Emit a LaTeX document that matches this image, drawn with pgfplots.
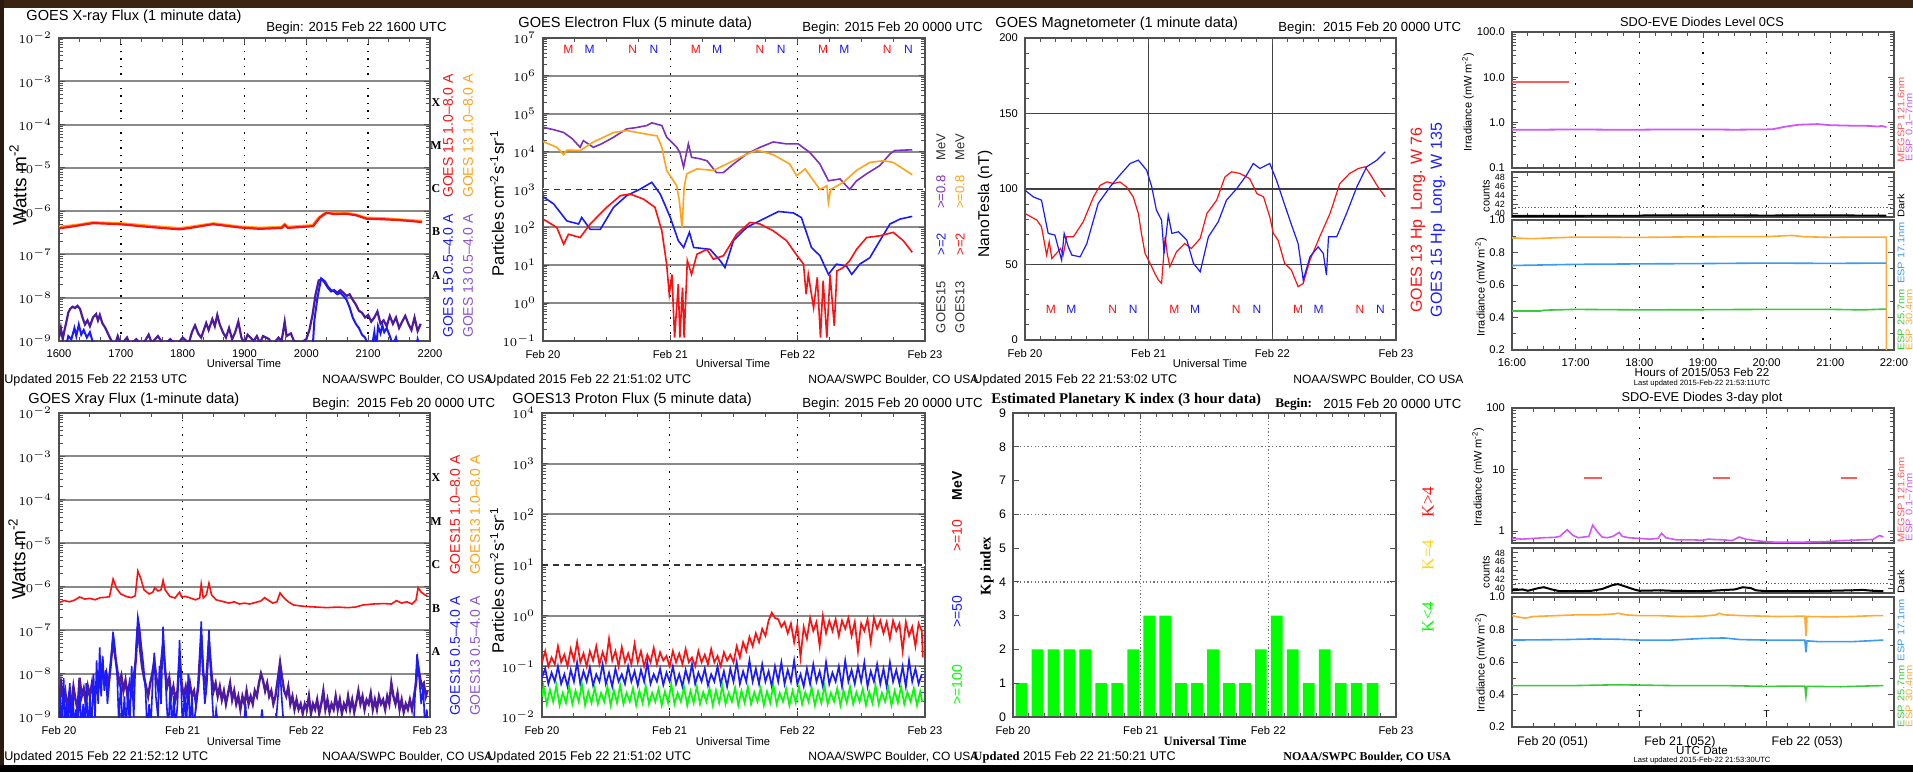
\documentclass[border=0pt]{standalone}
\usepackage{fontspec}
\setmainfont{Liberation Sans}
\newfontfamily\serif{Liberation Serif}
\usepackage{pgfplots}
\pgfplotsset{compat=1.18}

\definecolor{gred}{HTML}{FF1010}
\definecolor{gorange}{HTML}{FFA31A}
\definecolor{gblue}{HTML}{1A1AFF}
\definecolor{gpurple}{HTML}{4E1A9E}
\definecolor{lpurple}{HTML}{8A55D0}
\definecolor{epurple}{HTML}{7A30C0}
\definecolor{kgreen}{HTML}{00FF00}
\definecolor{kyellow}{HTML}{FFD21A}
\definecolor{sred}{HTML}{FF5A5A}
\definecolor{smag}{HTML}{D455F5}
\definecolor{sorange}{HTML}{FFAA33}
\definecolor{sblue}{HTML}{3C9BF0}
\definecolor{sgreen}{HTML}{3CC83C}
\definecolor{axc}{HTML}{505050}
\definecolor{gridc}{HTML}{8A8A8A}
\definecolor{topband}{HTML}{3B2410}
\definecolor{leftband}{HTML}{2B1B0E}

\newcommand{\fs}[1]{\fontsize{#1}{#1}\selectfont}

\tikzset{rl/.style={rotate=90, font=\fs{4.8}, xscale=1.15}}

\pgfplotsset{
 base/.style={scale only axis, anchor=south west,
   axis line style={draw=axc, line width=0.9pt},
   tick style={draw=axc, line width=0.5pt},
   major tick length=2.8pt, minor tick length=2.2pt,
   tick label style={font=\fs{5.6}},
   xticklabel style={yshift=-1pt}},
 dgrid/.style={xmajorgrids, major x grid style={draw=black, line width=0.7pt, dash pattern=on 0.7pt off 3pt}},
 sgrid/.style={xmajorgrids, major x grid style={draw=black, line width=0.7pt, dash pattern=on 0.7pt off 4.5pt}},
 hgrid/.style={ymajorgrids, major y grid style={draw=gridc, line width=1pt}},
 day3/.style={xmin=0, xmax=72, xtick={0,24,48,72}, minor x tick num=3},
 xraylog/.style={ymin=1e-9, ymax=1e-2, ytick={1e-9,1e-8,1e-7,1e-6,1e-5,1e-4,1e-3,1e-2},
   minor ytick={2e-9,3e-9,4e-9,5e-9,6e-9,7e-9,8e-9,9e-9,2e-8,3e-8,4e-8,5e-8,6e-8,7e-8,8e-8,9e-8,2e-7,3e-7,4e-7,5e-7,6e-7,7e-7,8e-7,9e-7,2e-6,3e-6,4e-6,5e-6,6e-6,7e-6,8e-6,9e-6,2e-5,3e-5,4e-5,5e-5,6e-5,7e-5,8e-5,9e-5,2e-4,3e-4,4e-4,5e-4,6e-4,7e-4,8e-4,9e-4,2e-3,3e-3,4e-3,5e-3,6e-3,7e-3,8e-3,9e-3}},
}

\begin{document}
\begin{tikzpicture}
\useasboundingbox (0,0) rectangle (956.5pt,-386pt);
\fill[white] (0,0) rectangle (956.5pt,-386pt);
\fill[topband] (0,0) rectangle (956.5pt,-4pt);
\fill[leftband] (0,0) rectangle (2pt,-386pt);
\fill[black] (0,-382.5pt) rectangle (956.5pt,-386pt);

%================ Panel 1: GOES X-ray 1 minute
\begin{axis}[base, ymode=log, at={(29.5pt,-170.5pt)}, width=185.5pt, height=151.5pt,
  xmin=16, xmax=22, xtick={16,17,18,19,20,21,22},
  xticklabels={1600,1700,1800,1900,2000,2100,2200}, minor x tick num=2,
  xraylog, dgrid, hgrid]
\addplot[gorange, line width=1.3pt] coordinates {(16,4.3e-7)(16.3,4.8e-7)(16.55,5.5e-7)(17.0,5.2e-7)(17.5,4.5e-7)(17.95,4.0e-7)(18.12,4.3e-7)(18.5,5.2e-7)(18.9,4.4e-7)(19.25,4.1e-7)(19.6,4.3e-7)(19.65,5.0e-7)(19.7,4.3e-7)(20.1,4.7e-7)(20.2,7.0e-7)(20.32,9.5e-7)(20.45,8.9e-7)(20.65,9.0e-7)(20.8,8.3e-7)(20.97,7.0e-7)(21.25,6.8e-7)(21.5,6.4e-7)(21.87,5.9e-7)};
\addplot[gred, line width=1.1pt] coordinates {(16,4.0e-7)(16.2,4.4e-7)(16.55,5.3e-7)(16.98,5.0e-7)(17.47,4.3e-7)(17.95,3.8e-7)(18.12,4.1e-7)(18.49,5.0e-7)(18.92,4.2e-7)(19.25,3.9e-7)(19.6,4.1e-7)(19.65,4.8e-7)(19.7,4.1e-7)(20.11,4.5e-7)(20.22,7.2e-7)(20.33,9.2e-7)(20.44,8.6e-7)(20.65,8.7e-7)(20.81,8.0e-7)(20.97,6.7e-7)(21.24,6.5e-7)(21.52,6.2e-7)(21.87,5.6e-7)};
\addplot[gpurple, line width=1.1pt] coordinates {(16.00,1.2e-9)(16.03,2.0e-9)(16.06,1.1e-9)(16.09,1.8e-9)(16.12,2.8e-9)(16.15,4.5e-9)(16.18,5.5e-9)(16.22,6.2e-9)(16.26,5.8e-9)(16.30,6.5e-9)(16.34,5.5e-9)(16.38,3.5e-9)(16.42,2.4e-9)(16.46,3.0e-9)(16.50,2.2e-9)(16.55,3.5e-9)(16.60,4.2e-9)(16.63,3.0e-9)(16.66,4.0e-9)(16.70,2.6e-9)(16.75,2.0e-9)(16.80,1.4e-9)(16.85,1.0e-9)(16.90,0.8e-9)(16.95,1.3e-9)(17.0,0.8e-9)(17.1,1.2e-9)(17.15,0.8e-9)(17.25,1.1e-9)(17.35,0.8e-9)(17.45,1.4e-9)(17.5,0.9e-9)(17.6,1.3e-9)(17.7,0.8e-9)(17.8,1.1e-9)(17.9,0.8e-9)(18.0,1.2e-9)(18.1,0.9e-9)(18.15,1.6e-9)(18.2,2.3e-9)(18.25,1.5e-9)(18.3,1.2e-9)(18.38,2.6e-9)(18.42,1.8e-9)(18.48,3.2e-9)(18.52,2.2e-9)(18.56,4.0e-9)(18.6,2.4e-9)(18.65,1.6e-9)(18.7,1.2e-9)(18.75,2.0e-9)(18.8,1.1e-9)(18.85,1.6e-9)(18.9,2.8e-9)(18.95,1.2e-9)(19.0,0.9e-9)(19.05,1.4e-9)(19.15,1.0e-9)(19.2,1.3e-9)(19.25,0.9e-9)(19.3,1.3e-9)(19.4,1.1e-9)(19.45,0.8e-9)(19.55,1.2e-9)(19.6,1.0e-9)(19.65,2.8e-9)(19.68,1.3e-9)(19.75,1.5e-9)(19.8,1.0e-9)(19.9,0.9e-9)(20.0,1.1e-9)(20.05,1.8e-9)(20.1,4.0e-9)(20.15,12e-9)(20.2,25e-9)(20.25,27e-9)(20.3,22e-9)(20.35,17e-9)(20.4,14e-9)(20.45,15e-9)(20.5,13e-9)(20.55,15e-9)(20.6,13e-9)(20.65,11e-9)(20.7,12e-9)(20.75,9e-9)(20.8,7e-9)(20.85,5e-9)(20.9,4.5e-9)(20.95,3.5e-9)(21.0,4.0e-9)(21.05,2.8e-9)(21.1,3.5e-9)(21.15,4.8e-9)(21.2,2.5e-9)(21.25,3.0e-9)(21.3,2.2e-9)(21.35,3.8e-9)(21.4,2.5e-9)(21.45,3.5e-9)(21.5,2.0e-9)(21.55,2.8e-9)(21.6,3.8e-9)(21.65,2.5e-9)(21.7,1.8e-9)(21.75,3.5e-9)(21.8,1.7e-9)(21.85,2.5e-9)};
\addplot[gblue, line width=1.0pt] coordinates {(16.00,0.5e-9)(16.1,0.6e-9)(16.15,1.3e-9)(16.2,1.1e-9)(16.25,2.0e-9)(16.28,1.3e-9)(16.32,2.4e-9)(16.36,1.4e-9)(16.4,1.8e-9)(16.45,1.2e-9)(16.5,1.6e-9)(16.55,0.9e-9)(16.6,0.5e-9)(16.7,0.5e-9)(17.0,0.6e-9)(17.5,0.6e-9)(18.5,0.6e-9)(18.8,0.6e-9)(19.5,0.5e-9)(20.0,0.5e-9)(20.1,0.6e-9)(20.13,3e-9)(20.18,10e-9)(20.24,28e-9)(20.3,24e-9)(20.35,18e-9)(20.4,15e-9)(20.45,14e-9)(20.5,12e-9)(20.55,13e-9)(20.6,11e-9)(20.65,9e-9)(20.7,6e-9)(20.75,3.5e-9)(20.8,2.5e-9)(20.85,2.0e-9)(20.9,1.4e-9)(20.95,1.2e-9)(21.0,0.8e-9)(21.05,0.6e-9)(21.1,1.6e-9)(21.13,0.7e-9)(21.16,2.2e-9)(21.2,1.5e-9)(21.23,2.3e-9)(21.26,1.6e-9)(21.3,2.0e-9)(21.35,1.3e-9)(21.4,0.8e-9)(21.45,1.2e-9)(21.5,0.6e-9)(21.6,0.5e-9)(21.75,0.5e-9)(21.8,1.1e-9)(21.85,0.6e-9)};
\end{axis}

%================ Panel 2: GOES electron flux
\begin{axis}[base, ymode=log, at={(271.5pt,-170.5pt)}, width=191pt, height=151.5pt,
  day3, xticklabels={Feb 20,Feb 21,Feb 22,Feb 23},
  ymin=0.1, ymax=1e7, ytick={0.1,1,10,100,1000,1e4,1e5,1e6,1e7},
  minor ytick={0.2,0.3,0.4,0.5,0.6,0.7,0.8,0.9,2,3,4,5,6,7,8,9,20,30,40,50,60,70,80,90,200,300,400,500,600,700,800,900,2e3,3e3,4e3,5e3,6e3,7e3,8e3,9e3,2e4,3e4,4e4,5e4,6e4,7e4,8e4,9e4,2e5,3e5,4e5,5e5,6e5,7e5,8e5,9e5,2e6,3e6,4e6,5e6,6e6,7e6,8e6,9e6},
  dgrid, hgrid]
\addplot[white, line width=1.4pt] coordinates {(0,1000)(72,1000)};
\addplot[black!80, line width=0.8pt, dash pattern=on 3pt off 2.5pt] coordinates {(0,1000)(72,1000)};
\addplot[epurple, line width=0.8pt] coordinates {(0,4.4e4)(2,3.8e4)(3.9,3.2e4)(5.5,2.2e4)(7,1.3e4)(7.6,1.95e4)(9.5,1.3e4)(11,1.6e4)(13.3,2.4e4)(15.8,4.0e4)(17.5,4.3e4)(19.6,4.9e4)(20.5,5.75e4)(22.4,4.9e4)(23.3,2.4e4)(25.2,1.3e4)(25.8,9.5e3)(26.5,3.9e3)(27.4,1.6e4)(28,7.1e3)(29.5,6.5e3)(30.9,5.75e3)(32.7,2.8e3)(34,2.8e3)(35.9,4.7e3)(38.4,8.7e3)(40.9,1.3e4)(43.4,1.8e4)(45.9,1.6e4)(48.1,1.6e4)(50.3,9.5e3)(52.2,4.7e3)(53.8,1.7e3)(56,1.9e3)(57.8,1.0e3)(59.1,1.7e3)(61,2.6e3)(63.5,4.3e3)(65.4,8.7e3)(66.3,1.07e4)(69.6,1.12e4)};
\addplot[gorange, line width=0.8pt] coordinates {(0,1.86e4)(2.6,1.3e4)(3.9,8.3e3)(4.5,1.1e4)(7,1.07e4)(9.5,1.8e4)(13.3,3.2e4)(15.8,3.6e4)(18.3,3.1e4)(21.5,2.6e4)(22.4,1.3e4)(23.3,3.2e3)(25.2,1.26e3)(25.7,500)(26.2,100)(26.6,1.15e3)(27.1,2.6e3)(29,3.5e3)(32.1,3.2e3)(34.6,4.7e3)(37.8,7.8e3)(40.3,1.1e4)(43.4,8.3e3)(46.5,4.7e3)(47.8,2.3e3)(49.4,3.5e3)(51,1.7e3)(52.2,1.0e3)(53.5,1.26e3)(53.8,457)(54.2,1.0e3)(56.6,1.55e3)(59.1,3.2e3)(61.6,5.2e3)(64.1,5.75e3)(66,5.2e3)(67.9,3.5e3)(69.6,2.45e3)};
\addplot[gblue, line width=0.8pt] coordinates {(0,646)(2,417)(4.5,148)(6.7,123)(7.3,182)(8.9,89)(10.8,89)(13.3,339)(15.8,692)(18.3,1023)(20.5,1549)(22.1,759)(24,182)(25.5,44.7)(26.5,29.5)(27.6,74)(28.4,29.5)(31.5,26.3)(33.4,13.2)(34.3,8.7)(35.9,44.7)(38.4,100)(41.5,166)(44.4,263)(47.2,240)(48.7,182)(50.6,29.5)(52.2,17.8)(53.8,5.75)(55.3,10.7)(57.2,9.5)(58.2,5.75)(59.7,10.7)(61.6,15.8)(63.5,44.7)(65.4,123)(67.3,166)(69.6,195)};
\addplot[gred, line width=0.8pt] coordinates {(0,166)(2.6,100)(3.9,36)(4.8,66)(7,54)(8.9,123)(12,339)(14.6,692)(16.4,759)(18.9,562)(21.1,339)(22.4,81)(23.3,10.7)(23.8,1.7)(24.3,5.75)(24.8,0.123)(25.5,3.16)(25.8,0.123)(26.3,2.57)(26.6,0.123)(27.2,13.2)(28,5.75)(29,19.5)(30.9,26.3)(32.1,14.5)(34,17.8)(36.5,66)(39,135)(40.9,123)(43.4,81)(45.9,44.7)(47.7,19.5)(48.4,14.5)(49.1,10.7)(49.6,1.7)(50,5.75)(51,0.76)(51.7,4.8)(52.3,0.123)(52.8,3.9)(53.5,0.123)(54.1,5.75)(54.9,0.25)(55.4,7.1)(56.6,8.7)(57.8,13.2)(59.1,26.3)(61,54)(63.5,60)(66,74)(67.9,44.7)(69.6,21.9)};
\pgfplotsinvokeforeach{0,24,48}{
  \node[text=gred, font=\fs{6}] at (axis cs:{4.8+#1},5e6) {M};
  \node[text=gblue, font=\fs{6}] at (axis cs:{8.8+#1},5e6) {M};
  \node[text=gred, font=\fs{6}] at (axis cs:{16.9+#1},5e6) {N};
  \node[text=gblue, font=\fs{6}] at (axis cs:{20.9+#1},5e6) {N};
}
\end{axis}

%================ Panel 3: magnetometer
\begin{axis}[base, at={(512.5pt,-170pt)}, width=185.5pt, height=151pt,
  day3, minor x tick num=7, xticklabels={Feb 20,Feb 21,Feb 22,Feb 23},
  ymin=0, ymax=200, ytick={0,50,100,150,200}, yticklabels={0,50,100,150,200}, minor y tick num=4,
  xmajorgrids, ymajorgrids, major grid style={draw=black!75, line width=0.8pt}]
\addplot[gred, line width=0.6pt] coordinates {(0,83.8)(2.3,79.4)(3.2,75)(4.2,56.2)(4.7,65)(5.2,54)(6.1,57.3)(6.9,60.6)(7.4,56.2)(8.1,68.4)(9.4,68.4)(11.3,78.3)(13.3,94.8)(14.6,102.5)(15.9,104.7)(17.2,103.6)(18.4,104.7)(19.7,101.4)(21,94.8)(22,83.8)(22.6,70.6)(23.3,57.3)(24.6,48.5)(25.2,44.1)(25.9,39.7)(26.5,37.5)(27.2,68.4)(27.6,57.3)(28.1,48.5)(29.4,58.4)(31,63.9)(32.3,60.6)(34,67.3)(35.3,83.8)(37.2,92.6)(38.8,108)(40.1,111.4)(41.7,110.3)(43.6,106.9)(45,97)(46.3,94.8)(47.5,81.6)(48.2,70.6)(49.1,66.2)(50.4,50.7)(51.7,46.3)(53,35.3)(54,37.5)(55.3,52.9)(57.2,68.4)(59.2,83.8)(61.1,103.6)(63,110.3)(64.7,113.6)(66,114.7)(66.9,110.3)(68.5,101.4)(69.9,94.8)};
\addplot[gblue, line width=0.6pt] coordinates {(0,99.2)(1.6,94.8)(3.2,92.6)(4.5,70.6)(5.8,69.5)(7.1,52.9)(7.6,70.6)(8.4,61.7)(9.1,56.2)(10.7,55.1)(12,63.9)(14.2,90.4)(16.5,101.4)(18.4,109.2)(20.4,116.9)(22,119.1)(23.6,112.5)(24.6,101.4)(25.5,86)(26.5,79.4)(27,57.3)(27.8,82.7)(28.5,70.6)(29.8,71.7)(31.4,66.2)(32.7,50.7)(34,45.2)(35.6,68.4)(37.5,78.3)(39.1,92.6)(41.1,100.3)(43,109.2)(44.3,116.9)(45.6,113.6)(47.5,116.9)(48.8,105.8)(50.1,92.6)(51.4,79.4)(53,63.9)(54,39.7)(55.3,55.1)(56.9,61.7)(57.9,57.3)(58.5,43)(58.9,68.4)(60.5,68.4)(62.4,83.8)(64.4,101.4)(66.3,114.7)(68.3,119.1)(69.9,124.6)};
\pgfplotsinvokeforeach{0,24,48}{
  \node[text=gred, font=\fs{6}] at (axis cs:{5+#1},20) {M};
  \node[text=gblue, font=\fs{6}] at (axis cs:{9+#1},20) {M};
  \node[text=gred, font=\fs{6}] at (axis cs:{17+#1},20) {N};
  \node[text=gblue, font=\fs{6}] at (axis cs:{21+#1},20) {N};
}
\end{axis}

%================ Panel 4: SDO-EVE Level 0CS
\begin{axis}[base, ymode=log, at={(756pt,-84pt)}, width=191pt, height=68pt,
  xmin=16, xmax=22, xtick={16,...,22}, xticklabels={}, minor x tick num=3, sgrid,
  ymin=0.1, ymax=100, ytick={0.1,1,10,100}, yticklabels={0.1,1.0,10.0,100.0},
  minor ytick={0.2,0.3,0.4,0.5,0.6,0.7,0.8,0.9,2,3,4,5,6,7,8,9,20,30,40,50,60,70,80,90}]
\addplot[sred, line width=0.9pt] coordinates {(16,8)(16.89,8)};
\addplot[smag, line width=0.9pt] coordinates {(16,0.70)(16.5,0.70)(17,0.71)(17.5,0.70)(18,0.70)(18.5,0.71)(19,0.71)(19.5,0.70)(20,0.71)(20.1,0.72)(20.3,0.82)(20.5,0.9)(20.8,0.93)(21,0.88)(21.3,0.86)(21.6,0.85)(21.75,0.82)(21.8,0.85)(21.88,0.8)};
\end{axis}
\begin{axis}[base, at={(756pt,-108.5pt)}, width=191pt, height=22.5pt,
  xmin=16, xmax=22, xtick={16,...,22}, xticklabels={}, minor x tick num=3, sgrid,
  ymin=39.2, ymax=49.2, ytick={40,42,44,46,48}, yticklabels={40,42,44,46,48}, minor y tick num=1,
  yticklabel style={font=\fs{4.5}}]
\addplot[black!60, line width=0.6pt, dash pattern=on 0.6pt off 1pt] coordinates {(16,41.3)(22,41.3)};
\addplot[black, line width=0.9pt] coordinates {(16,39.45)(17,39.45)(18,39.5)(18.1,39.6)(19,39.6)(20,39.55)(21,39.6)(21.88,39.5)};
\end{axis}
\begin{axis}[base, at={(756pt,-175pt)}, width=191pt, height=65pt,
  xmin=16, xmax=22, xtick={16,...,22}, xticklabels={16:00,17:00,18:00,19:00,20:00,21:00,22:00}, minor x tick num=3, sgrid,
  ymin=0.2, ymax=1.0, ytick={0.2,0.4,0.6,0.8,1.0}, yticklabels={0.2,0.4,0.6,0.8,1.0}, minor y tick num=1]
\addplot[sorange, line width=0.8pt] coordinates {(16,0.89)(16.3,0.885)(17,0.895)(18,0.893)(19,0.897)(20,0.898)(20.4,0.905)(20.6,0.897)(21,0.893)(21.5,0.895)(21.88,0.895)(21.88,0.2)};
\addplot[sblue, line width=0.8pt] coordinates {(16,0.72)(17,0.727)(18,0.73)(19,0.732)(20,0.735)(21,0.733)(21.88,0.735)};
\addplot[sgreen, line width=0.8pt] coordinates {(16,0.44)(16.45,0.44)(16.5,0.445)(17,0.45)(18,0.447)(19,0.448)(20,0.45)(21,0.45)(21.5,0.447)(21.88,0.452)};
\end{axis}

%================ Panel 5: GOES X-ray 3 day
\begin{axis}[base, ymode=log, at={(29.5pt,-358.5pt)}, width=185.5pt, height=152pt,
  day3, xticklabels={Feb 20,Feb 21,Feb 22,Feb 23},
  xraylog, dgrid, hgrid]
\addplot[gred, line width=0.8pt] coordinates {(0,4.3e-7)(1,4.8e-7)(2,4.5e-7)(3,4.9e-7)(4,5.8e-7)(5,5.2e-7)(6,5.4e-7)(7,5.0e-7)(8,5.6e-7)(9,5.7e-7)(9.8,5.9e-7)(10.5,1.5e-6)(11.2,9e-7)(12,6.8e-7)(13,6.0e-7)(14,5.6e-7)(14.8,6.2e-7)(15.3,2.3e-6)(15.9,1.5e-6)(16.5,8.5e-7)(17.5,6.8e-7)(18.2,7.5e-7)(18.6,9.5e-7)(19.2,8.0e-7)(19.8,8.5e-7)(20.2,1.4e-6)(20.6,8.5e-7)(21.5,6.0e-7)(22.5,5.5e-7)(23.4,7.5e-7)(23.8,5.8e-7)(24.5,6.0e-7)(25.5,5.5e-7)(26.5,5.0e-7)(27.3,5.5e-7)(27.6,1.15e-6)(28,5.5e-7)(28.6,6.5e-7)(29.1,1.2e-6)(29.6,6.5e-7)(30.5,5.0e-7)(32,4.5e-7)(33,4.2e-7)(34,4.5e-7)(35,4.0e-7)(36,4.2e-7)(37,4.0e-7)(38,4.3e-7)(39.2,4.7e-7)(39.9,5.6e-7)(40.5,5.0e-7)(41.5,4.2e-7)(42.3,4.5e-7)(42.9,7.2e-7)(43.5,5.8e-7)(44.5,4.5e-7)(45.5,3.8e-7)(47,3.6e-7)(48,3.5e-7)(50,3.4e-7)(52,3.3e-7)(54,3.4e-7)(56,3.3e-7)(57.5,3.4e-7)(59,3.8e-7)(61,4.0e-7)(63,4.1e-7)(64.5,4.0e-7)(65.5,4.8e-7)(66.5,4.2e-7)(67.5,4.5e-7)(68.5,4.0e-7)(69.3,5.0e-7)(69.7,9.5e-7)(70.3,7.5e-7)(71,6.5e-7)(71.5,6.2e-7)};
\addplot[gpurple, line width=1.2pt] coordinates {(0,2e-9)(0.4,6e-9)(0.8,2.5e-9)(1.2,4e-9)(1.6,1.5e-9)(2.0,3.5e-9)(2.4,2e-9)(2.8,5e-9)(3.2,2.5e-9)(3.6,1.5e-9)(4.0,8e-9)(4.4,3e-9)(4.8,4.5e-9)(5.2,2e-9)(5.6,5e-9)(6.0,3e-9)(6.4,6e-9)(6.8,2.5e-9)(7.2,4e-9)(7.6,9e-9)(8.0,5e-9)(8.4,15e-9)(8.8,6e-9)(9.2,10e-9)(9.6,5e-9)(10.0,15e-9)(10.5,60e-9)(10.9,25e-9)(11.3,12e-9)(11.7,6e-9)(12.1,9e-9)(12.5,4e-9)(12.9,7e-9)(13.3,3e-9)(13.7,6e-9)(14.1,3.5e-9)(14.5,8e-9)(14.9,20e-9)(15.3,120e-9)(15.7,40e-9)(16.1,15e-9)(16.5,8e-9)(16.9,5e-9)(17.3,3e-9)(17.7,6e-9)(18.1,10e-9)(18.5,20e-9)(18.9,8e-9)(19.3,4e-9)(19.7,12e-9)(20.2,50e-9)(20.6,12e-9)(21.0,5e-9)(21.4,8e-9)(21.8,3e-9)(22.2,5e-9)(22.6,2.5e-9)(23.0,4e-9)(23.4,25e-9)(23.8,6e-9)(24.2,3e-9)(24.6,5e-9)(25.0,2.5e-9)(25.4,6e-9)(25.8,3e-9)(26.2,4e-9)(26.6,2e-9)(27.0,5e-9)(27.6,80e-9)(28.0,10e-9)(28.5,5e-9)(29.1,55e-9)(29.6,10e-9)(30.0,4e-9)(30.4,6e-9)(30.8,3e-9)(31.2,5e-9)(31.6,2.5e-9)(32.0,4e-9)(32.4,2e-9)(32.8,3.5e-9)(33.2,6e-9)(33.6,2.5e-9)(34.0,4e-9)(34.4,2e-9)(34.8,3e-9)(35.2,1.5e-9)(35.6,3e-9)(36.0,2e-9)(36.4,4e-9)(36.8,2e-9)(37.2,3e-9)(37.6,2e-9)(38.0,4e-9)(38.4,3e-9)(38.8,6e-9)(39.2,10e-9)(39.6,7e-9)(40.0,4e-9)(40.4,6e-9)(40.8,3e-9)(41.2,4e-9)(41.6,2e-9)(42.0,3e-9)(42.5,8e-9)(42.9,18e-9)(43.3,8e-9)(43.7,4e-9)(44.1,3e-9)(44.5,5e-9)(44.9,2e-9)(45.3,3e-9)(45.7,1.5e-9)(46.1,2.5e-9)(46.5,1.5e-9)(46.9,2e-9)(47.3,1.2e-9)(47.7,2e-9)(48.1,1.5e-9)(48.5,3e-9)(48.9,1.2e-9)(49.3,2e-9)(49.7,1.5e-9)(50.1,2.5e-9)(50.5,1.2e-9)(50.9,2e-9)(51.3,4e-9)(51.7,1.5e-9)(52.1,2.5e-9)(52.5,1.3e-9)(52.9,2e-9)(53.3,1.5e-9)(53.7,3e-9)(54.1,1.5e-9)(54.5,2.5e-9)(54.9,1.2e-9)(55.3,2e-9)(55.7,1.5e-9)(56.1,3e-9)(56.5,1.5e-9)(56.9,2.5e-9)(57.3,1.3e-9)(57.7,2.2e-9)(58.1,4e-9)(58.5,2e-9)(58.9,3e-9)(59.3,1.5e-9)(59.7,2.5e-9)(60.1,2e-9)(60.5,3.5e-9)(60.9,1.5e-9)(61.3,2.5e-9)(61.7,1.5e-9)(62.1,3e-9)(62.5,2e-9)(62.9,2.5e-9)(63.3,1.5e-9)(63.7,3e-9)(64.1,2e-9)(64.5,6e-9)(64.9,3e-9)(65.3,2e-9)(65.7,3.5e-9)(66.1,1.5e-9)(66.5,2.5e-9)(66.9,1.3e-9)(67.3,2e-9)(67.7,1.5e-9)(68.1,2.5e-9)(68.5,1.5e-9)(68.9,3e-9)(69.3,6e-9)(69.6,18e-9)(70.0,9e-9)(70.4,5e-9)(70.8,6e-9)(71.2,3e-9)(71.5,4e-9)};
\addplot[gblue, line width=0.8pt] coordinates {(0,0.5e-9)(0.3,3e-9)(0.6,0.5e-9)(0.9,8e-9)(1.2,0.5e-9)(1.5,2e-9)(1.8,0.5e-9)(2.1,6e-9)(2.4,0.5e-9)(2.7,3e-9)(3.0,0.5e-9)(3.3,1.5e-9)(3.6,0.5e-9)(4.0,5e-9)(4.3,0.5e-9)(4.7,2e-9)(5.0,0.5e-9)(5.3,6e-9)(5.6,0.5e-9)(6.0,3e-9)(6.3,0.5e-9)(6.7,10e-9)(7.0,1e-9)(7.3,20e-9)(7.6,2e-9)(7.9,40e-9)(8.2,3e-9)(8.5,25e-9)(8.8,4e-9)(9.1,12e-9)(9.4,2e-9)(9.8,8e-9)(10.2,30e-9)(10.5,90e-9)(10.9,35e-9)(11.3,8e-9)(11.6,0.8e-9)(12.0,6e-9)(12.3,0.5e-9)(12.7,3e-9)(13.0,0.5e-9)(13.4,5e-9)(13.7,0.5e-9)(14.1,15e-9)(14.5,1e-9)(14.9,30e-9)(15.3,200e-9)(15.6,120e-9)(16.0,40e-9)(16.4,15e-9)(16.8,4e-9)(17.1,0.5e-9)(17.5,2e-9)(17.8,0.5e-9)(18.2,8e-9)(18.5,30e-9)(18.8,3e-9)(19.2,1e-9)(19.5,15e-9)(19.8,2e-9)(20.2,120e-9)(20.5,20e-9)(20.9,2e-9)(21.2,0.5e-9)(21.6,5e-9)(21.9,0.5e-9)(22.3,3e-9)(22.6,0.5e-9)(23.0,2e-9)(23.4,60e-9)(23.7,5e-9)(24.0,0.5e-9)(24.4,4e-9)(24.7,0.5e-9)(25.1,10e-9)(25.4,0.5e-9)(25.8,3e-9)(26.1,0.5e-9)(26.5,1.5e-9)(26.9,4e-9)(27.3,10e-9)(27.6,160e-9)(27.9,15e-9)(28.3,2e-9)(28.7,6e-9)(29.1,100e-9)(29.4,15e-9)(29.8,2e-9)(30.1,0.5e-9)(30.5,1.5e-9)(31,0.5e-9)(35.8,0.5e-9)(36.2,2e-9)(36.5,0.5e-9)(39,0.5e-9)(39.4,1.5e-9)(39.8,0.5e-9)(42,0.5e-9)(42.5,3e-9)(42.9,12e-9)(43.3,2e-9)(43.7,0.5e-9)(68.8,0.5e-9)(69.2,6e-9)(69.5,28e-9)(69.9,8e-9)(70.3,2e-9)(70.7,5e-9)(71.0,0.6e-9)(71.4,1.5e-9)(71.5,0.5e-9)};
\end{axis}

%================ Panel 6: proton flux
\begin{axis}[base, ymode=log, at={(271pt,-358.5pt)}, width=191.5pt, height=152pt,
  day3, xticklabels={Feb 20,Feb 21,Feb 22,Feb 23},
  ymin=0.01, ymax=1e4, ytick={0.01,0.1,1,10,100,1000,1e4},
  minor ytick={0.02,0.03,0.04,0.05,0.06,0.07,0.08,0.09,0.2,0.3,0.4,0.5,0.6,0.7,0.8,0.9,2,3,4,5,6,7,8,9,20,30,40,50,60,70,80,90,200,300,400,500,600,700,800,900,2e3,3e3,4e3,5e3,6e3,7e3,8e3,9e3},
  dgrid, hgrid]
\addplot[white, line width=1.4pt] coordinates {(0,10)(72,10)};
\addplot[black!80, line width=0.8pt, dash pattern=on 3pt off 2.5pt] coordinates {(0,10)(72,10)};
\addplot[gred, line width=0.85pt] coordinates {(0,0.12)(0.6,0.2)(1.2,0.1)(1.8,0.15)(2.4,0.11)(3.0,0.25)(3.6,0.12)(4.2,0.17)(4.8,0.1)(5.4,0.22)(6.0,0.13)(6.6,0.3)(7.2,0.12)(7.8,0.18)(8.4,0.1)(9.0,0.2)(9.6,0.13)(10.2,0.25)(10.8,0.11)(11.4,0.19)(12.0,0.12)(12.6,0.35)(13.2,0.13)(13.8,0.2)(14.4,0.1)(15.0,0.24)(15.6,0.12)(16.2,0.18)(16.8,0.11)(17.4,0.28)(18.0,0.12)(18.6,0.2)(19.2,0.1)(19.8,0.17)(20.4,0.12)(21.0,0.23)(21.6,0.11)(22.2,0.19)(22.8,0.13)(23.4,0.16)(24.0,0.1)(24.6,0.2)(25.2,0.12)(25.8,0.18)(26.4,0.11)(27.0,0.22)(27.6,0.12)(28.2,0.15)(28.8,0.1)(29.4,0.2)(30.0,0.12)(30.6,0.17)(31.2,0.11)(31.8,0.22)(32.4,0.12)(33.0,0.16)(33.6,0.1)(34.2,0.19)(34.8,0.13)(35.4,0.17)(36.0,0.12)(36.6,0.25)(37.2,0.15)(37.8,0.3)(38.4,0.2)(39.0,0.38)(39.6,0.25)(40.2,0.45)(40.8,0.3)(41.4,0.55)(42.0,0.4)(42.6,0.8)(43.2,1.15)(43.8,0.9)(44.4,0.85)(45.0,0.6)(45.6,0.75)(46.2,0.45)(46.8,0.7)(47.4,0.3)(48.0,0.65)(48.6,0.15)(49.2,0.6)(49.8,0.35)(50.4,0.9)(51.0,0.5)(51.6,0.75)(52.2,0.25)(52.8,1.0)(53.4,0.45)(54.0,0.8)(54.6,0.5)(55.2,0.85)(55.8,0.4)(56.4,0.8)(57.0,0.55)(57.6,0.9)(58.2,0.4)(58.8,0.75)(59.4,0.2)(60.0,0.7)(60.6,0.5)(61.2,0.85)(61.8,0.3)(62.4,0.9)(63.0,0.55)(63.6,0.8)(64.2,0.45)(64.8,0.75)(65.4,0.35)(66.0,0.8)(66.6,0.5)(67.2,0.7)(67.8,0.2)(68.4,0.75)(69.0,0.4)(69.6,0.6)(70.2,0.25)(70.8,0.7)(71.4,0.5)(71.6,0.15)};
\addplot[gblue, line width=0.85pt] coordinates {(0,0.06)(0.6,0.09)(1.2,0.045)(1.8,0.075)(2.4,0.05)(3.0,0.1)(3.6,0.045)(4.2,0.07)(4.8,0.04)(5.4,0.085)(6.0,0.05)(6.6,0.12)(7.2,0.045)(7.8,0.08)(8.4,0.05)(9.0,0.095)(9.6,0.042)(10.2,0.07)(10.8,0.05)(11.4,0.11)(12.0,0.045)(12.6,0.075)(13.2,0.04)(13.8,0.09)(14.4,0.05)(15.0,0.07)(15.6,0.045)(16.2,0.1)(16.8,0.05)(17.4,0.08)(18.0,0.042)(18.6,0.085)(19.2,0.05)(19.8,0.12)(20.4,0.045)(21.0,0.07)(21.6,0.05)(22.2,0.09)(22.8,0.043)(23.4,0.075)(24.0,0.05)(24.6,0.1)(25.2,0.045)(25.8,0.07)(26.4,0.04)(27.0,0.085)(27.6,0.05)(28.2,0.11)(28.8,0.045)(29.4,0.075)(30.0,0.05)(30.6,0.09)(31.2,0.042)(31.8,0.07)(32.4,0.05)(33.0,0.1)(33.6,0.045)(34.2,0.08)(34.8,0.04)(35.4,0.09)(36.0,0.05)(36.6,0.12)(37.2,0.045)(37.8,0.08)(38.4,0.05)(39.0,0.13)(39.6,0.05)(40.2,0.09)(40.8,0.045)(41.4,0.11)(42.0,0.05)(42.6,0.08)(43.2,0.04)(43.8,0.1)(44.4,0.05)(45.0,0.12)(45.6,0.045)(46.2,0.085)(46.8,0.05)(47.4,0.13)(48.0,0.045)(48.6,0.07)(49.2,0.04)(49.8,0.09)(50.4,0.045)(51.0,0.11)(51.6,0.05)(52.2,0.08)(52.8,0.04)(53.4,0.12)(54.0,0.045)(54.6,0.075)(55.2,0.05)(55.8,0.1)(56.4,0.04)(57.0,0.13)(57.6,0.05)(58.2,0.085)(58.8,0.045)(59.4,0.1)(60.0,0.05)(60.6,0.12)(61.2,0.04)(61.8,0.08)(62.4,0.05)(63.0,0.11)(63.6,0.045)(64.2,0.09)(64.8,0.04)(65.4,0.12)(66.0,0.05)(66.6,0.085)(67.2,0.045)(67.8,0.1)(68.4,0.04)(69.0,0.13)(69.6,0.05)(70.2,0.09)(70.8,0.045)(71.4,0.07)};
\addplot[kgreen, line width=0.85pt] coordinates {(0,0.025)(0.3,0.04)(0.9,0.018)(1.5,0.035)(2.1,0.02)(2.7,0.042)(3.3,0.017)(3.9,0.03)(4.5,0.019)(5.1,0.04)(5.7,0.018)(6.3,0.033)(6.9,0.02)(7.5,0.045)(8.1,0.017)(8.7,0.032)(9.3,0.019)(9.9,0.038)(10.5,0.018)(11.1,0.03)(11.7,0.02)(12.3,0.04)(12.9,0.017)(13.5,0.034)(14.1,0.019)(14.7,0.043)(15.3,0.018)(15.9,0.03)(16.5,0.02)(17.1,0.037)(17.7,0.017)(18.3,0.033)(18.9,0.019)(19.5,0.041)(20.1,0.018)(20.7,0.03)(21.3,0.02)(21.9,0.036)(22.5,0.017)(23.1,0.032)(23.7,0.019)(24.3,0.045)(24.9,0.018)(25.5,0.03)(26.1,0.02)(26.7,0.039)(27.3,0.017)(27.9,0.033)(28.5,0.019)(29.1,0.04)(29.7,0.018)(30.3,0.031)(30.9,0.02)(31.5,0.037)(32.1,0.017)(32.7,0.034)(33.3,0.019)(33.9,0.042)(34.5,0.018)(35.1,0.03)(35.7,0.02)(36.3,0.038)(36.9,0.017)(37.5,0.033)(38.1,0.019)(38.7,0.04)(39.3,0.018)(39.9,0.031)(40.5,0.02)(41.1,0.037)(41.7,0.017)(42.3,0.032)(42.9,0.019)(43.5,0.043)(44.1,0.018)(44.7,0.03)(45.3,0.02)(45.9,0.036)(46.5,0.017)(47.1,0.033)(47.7,0.019)(48.3,0.04)(48.9,0.018)(49.5,0.031)(50.1,0.02)(50.7,0.038)(51.3,0.017)(51.9,0.032)(52.5,0.019)(53.1,0.041)(53.7,0.018)(54.3,0.03)(54.9,0.02)(55.5,0.037)(56.1,0.017)(56.7,0.033)(57.3,0.019)(57.9,0.04)(58.5,0.018)(59.1,0.031)(59.7,0.02)(60.3,0.036)(60.9,0.017)(61.5,0.032)(62.1,0.019)(62.7,0.042)(63.3,0.018)(63.9,0.03)(64.5,0.02)(65.1,0.038)(65.7,0.017)(66.3,0.033)(66.9,0.019)(67.5,0.04)(68.1,0.018)(68.7,0.031)(69.3,0.02)(69.9,0.037)(70.5,0.017)(71.1,0.032)(71.5,0.02)};
\end{axis}

%================ Panel 7: Kp index
\begin{axis}[base, at={(506.5pt,-358.5pt)}, width=191.5pt, height=152pt,
  day3, minor x tick num=7, xticklabels={Feb 20,Feb 21,Feb 22,Feb 23},
  ymin=0, ymax=9, ytick={0,1,...,9}, yticklabels={0,1,2,3,4,5,6,7,8,9},
  yticklabel style={font=\fs{6.2}}, axis on top]
\addplot[black!55, line width=0.6pt, dash pattern=on 0.6pt off 1.2pt] coordinates {(0,4)(72,4)};
\addplot[black!55, line width=0.6pt, dash pattern=on 0.6pt off 1.2pt] coordinates {(0,6)(72,6)};
\addplot[black!55, line width=0.6pt, dash pattern=on 0.6pt off 1.2pt] coordinates {(0,8)(72,8)};
\addplot[black!55, line width=0.6pt, dash pattern=on 0.6pt off 1.2pt] coordinates {(24,0)(24,9)};
\addplot[black!55, line width=0.6pt, dash pattern=on 0.6pt off 1.2pt] coordinates {(48,0)(48,9)};
\addplot[ybar, bar width=2.2, fill=kgreen, draw=none] coordinates {(1.6,1)(4.6,2)(7.6,2)(10.6,2)(13.6,2)(16.6,1)(19.6,1)(22.6,2)(25.6,3)(28.6,3)(31.6,1)(34.6,1)(37.6,2)(40.6,1)(43.6,1)(46.6,2)(49.6,3)(52.6,2)(55.6,1)(58.6,2)(61.6,1)(64.6,1)(67.6,1)};
\end{axis}

%================ Panel 8: SDO-EVE 3-day
\begin{axis}[base, ymode=log, at={(756pt,-271.5pt)}, width=191pt, height=67.5pt,
  day3, minor x tick num=5, xticklabels={}, sgrid,
  ymin=0.64, ymax=100, ytick={1,10,100}, yticklabels={1,10,100},
  minor ytick={0.7,0.8,0.9,2,3,4,5,6,7,8,9,20,30,40,50,60,70,80,90}]
\addplot[sred, line width=1pt] coordinates {(13.6,7.3)(17,7.3)};
\addplot[sred, line width=1pt] coordinates {(37.9,7.3)(41.1,7.3)};
\addplot[sred, line width=1pt] coordinates {(62.1,7.3)(65.1,7.3)};
\addplot[smag, line width=0.8pt] coordinates {(0,0.76)(2,0.74)(4,0.76)(6,0.78)(8,0.79)(9,0.82)(10.4,1.05)(11.5,0.85)(12.5,0.78)(13.5,0.8)(14.5,0.82)(15.2,1.25)(16.2,0.95)(17,0.8)(18,0.78)(19,0.82)(20.2,0.95)(20.8,0.82)(22,0.78)(24,0.76)(26,0.74)(27.5,0.76)(28.2,0.92)(29,0.78)(31,0.72)(34,0.72)(36,0.71)(37,0.74)(38,0.73)(40,0.72)(41.5,0.7)(42.8,0.8)(44,0.74)(46,0.7)(48,0.67)(50,0.66)(54,0.66)(58,0.67)(60,0.68)(62,0.7)(64,0.71)(66,0.72)(68,0.73)(69.3,0.85)(70,0.8)};
\end{axis}
\begin{axis}[base, at={(756pt,-296.5pt)}, width=191pt, height=22.5pt,
  day3, minor x tick num=5, xticklabels={}, sgrid,
  ymin=39.0, ymax=49.1, ytick={40,42,44,46,48}, yticklabels={40,42,44,46,48}, minor y tick num=1,
  yticklabel style={font=\fs{4.5}}]
\addplot[black!60, line width=0.6pt, dash pattern=on 0.6pt off 1pt] coordinates {(0,41.1)(72,41.1)};
\addplot[black, line width=1pt] coordinates {(0,39.6)(2,39.8)(3,39.5)(5,40.1)(6,40.3)(7.5,39.8)(9,39.4)(12,39.4)(15,39.5)(17,39.9)(19,40.8)(20,41)(21,40.6)(23,39.8)(24,39.5)(28,39.6)(30,39.5)(36,39.4)(42,39.8)(43.5,40.3)(45,40.1)(46,39.6)(48,39.4)(54,39.4)(60,39.5)(64,39.6)(66,39.7)(68,39.5)(70,39.4)};
\end{axis}
\begin{axis}[base, at={(756pt,-363.5pt)}, width=191pt, height=65pt,
  day3, minor x tick num=5, xticklabels={Feb 20 (051),Feb 21 (052),Feb 22 (053),{}},
  xticklabel style={anchor=north west, xshift=-1pt, font=\fs{6.2}}, sgrid,
  ymin=0.2, ymax=1.0, ytick={0.2,0.4,0.6,0.8,1.0}, yticklabels={0.2,0.4,0.6,0.8,1.0}, minor y tick num=1]
\addplot[sorange, line width=0.8pt] coordinates {(0,0.885)(1.5,0.875)(2.5,0.87)(4,0.88)(8,0.885)(12,0.89)(16,0.89)(19,0.895)(20,0.9)(21.5,0.89)(24,0.885)(28,0.885)(32,0.88)(36,0.882)(38.5,0.89)(39,0.9)(40,0.89)(44,0.885)(50,0.88)(55.2,0.882)(55.4,0.76)(55.6,0.88)(60,0.878)(64,0.88)(68,0.885)(70,0.885)};
\addplot[sblue, line width=0.8pt] coordinates {(0,0.735)(10,0.738)(15,0.742)(20,0.74)(24,0.735)(30,0.735)(36,0.745)(40,0.748)(43,0.738)(48,0.735)(55.2,0.735)(55.4,0.66)(55.6,0.73)(58,0.725)(64,0.725)(70,0.735)};
\addplot[sgreen, line width=0.8pt] coordinates {(0,0.455)(12,0.455)(20,0.46)(30,0.455)(40,0.455)(48,0.45)(55.2,0.452)(55.4,0.39)(55.6,0.45)(62,0.448)(70,0.455)};
\node[font=\fs{5}] at (axis cs:24,0.28) {T};
\node[font=\fs{5}] at (axis cs:48,0.28) {T};
\end{axis}

%================ Text annotations (pixel coordinates)
\begin{scope}[x=0.5pt, y=-0.5pt, every node/.style={inner sep=0pt}]
% Panel 1
\node[anchor=west, font=\fs{7.3}] at (26,17) {GOES X-ray Flux (1 minute data)};
\node[anchor=east, font=\fs{6.6}] at (447,28) {Begin: 2015 Feb 22 1600 UTC};
\node[rotate=90, font=\fs{9.5}] at (18,185) {Watts m\textsuperscript{-2}};
\node[font=\fs{5.6}] at (244,363) {Universal Time};
\node[anchor=west, font=\fs{6.3}] at (4,380) {Updated 2015 Feb 22 2153 UTC};
\node[anchor=west, font=\fs{6}] at (322,380) {NOAA/SWPC Boulder, CO USA};
\node[rotate=90, text=gred, font=\fs{7}] at (448,136) {GOES 15 1.0–8.0 A};
\node[rotate=90, text=gorange, font=\fs{7}] at (468,136) {GOES 13 1.0–8.0 A};
\node[rotate=90, text=gblue, font=\fs{7}] at (448,276) {GOES 15 0.5–4.0 A};
\node[rotate=90, text=lpurple, font=\fs{7}] at (468,276) {GOES 13 0.5–4.0 A};
\foreach \lt/\yy in {X/103,M/146,C/189,B/232,A/276} {\node[font=\serif\bfseries\fs{6}] at (436,\yy) {\lt};}
% Panel 2
\node[anchor=west, font=\fs{7.3}] at (518,24) {GOES Electron Flux (5 minute data)};
\node[anchor=west, font=\fs{6.6}] at (802,28) {Begin: 2015 Feb 20 0000 UTC};
\node[rotate=90, font=\fs{8.3}] at (497,203) {Particles cm\textsuperscript{-2}s\textsuperscript{-1}sr\textsuperscript{-1}};
\node[font=\fs{5.6}] at (733,363) {Universal Time};
\node[anchor=west, font=\fs{6.3}] at (487,380) {Updated 2015 Feb 22 21:51:02 UTC};
\node[anchor=west, font=\fs{6}] at (808,380) {NOAA/SWPC Boulder, CO USA};
\node[rotate=90, font=\fs{6.5}, text=black!80] at (941,147) {MeV};
\node[rotate=90, font=\fs{6.5}, text=epurple] at (941,192) {>=0.8};
\node[rotate=90, font=\fs{6.5}, text=gblue] at (941,244) {>=2};
\node[rotate=90, font=\fs{6.5}, text=black!80] at (941,307) {GOES15};
\node[rotate=90, font=\fs{6.5}, text=black!80] at (960,147) {MeV};
\node[rotate=90, font=\fs{6.5}, text=gorange] at (960,192) {>=0.8};
\node[rotate=90, font=\fs{6.5}, text=gred] at (960,244) {>=2};
\node[rotate=90, font=\fs{6.5}, text=black!80] at (960,307) {GOES13};
% Panel 3
\node[anchor=west, font=\fs{7.3}] at (995,24) {GOES Magnetometer (1 minute data)};
\node[anchor=west, font=\fs{6.6}] at (1278,28) {Begin:\ \ 2015 Feb 20 0000 UTC};
\node[rotate=90, font=\fs{7.8}] at (985,204) {NanoTesla (nT)};
\node[font=\fs{5.6}] at (1210,363) {Universal Time};
\node[anchor=west, font=\fs{6.3}] at (973,380) {Updated 2015 Feb 22 21:53:02 UTC};
\node[anchor=west, font=\fs{6}] at (1293,380) {NOAA/SWPC Boulder, CO USA};
\node[rotate=90, text=gred, font=\fs{8}] at (1418,220) {GOES 13 Hp\ \ Long. W 76};
\node[rotate=90, text=gblue, font=\fs{8}] at (1438,220) {GOES 15 Hp\ \ Long. W 135};
% Panel 4
\node[font=\fs{6.4}] at (1702,22) {SDO-EVE Diodes Level 0CS};
\node[rotate=90, font=\fs{5.5}] at (1468,102) {Irradiance (mW m\textsuperscript{-2})};
\node[rotate=90, font=\fs{5.5}] at (1486,196) {counts};
\node[rotate=90, font=\fs{5.5}] at (1481,287) {Irradiance (mW m\textsuperscript{-2})};
\node[font=\fs{5.8}] at (1702,372) {Hours of 2015/053 Feb 22};
\node[font=\fs{3.8}] at (1702,384) {Last updated 2015-Feb-22 21:53:11UTC};
\node[rl, text=sred] at (1901,120) {MEGSP 121.6nm};
\node[rl, text=smag] at (1909,127) {ESP 0.1–7nm};
\node[rl] at (1901,206) {Dark};
\node[rl, text=sblue] at (1901,253) {ESP 17.1nm};
\node[rl, text=sgreen] at (1901,320) {ESP 25.7nm};
\node[rl, text=sorange] at (1909,320) {ESP 30.4nm};
% Panel 5
\node[anchor=west, font=\fs{7.3}] at (28,400) {GOES Xray Flux (1-minute data)};
\node[anchor=west, font=\fs{6.6}] at (312,404) {Begin:\ \ 2015 Feb 20 0000 UTC};
\node[rotate=90, font=\fs{9.5}] at (17,559) {Watts m\textsuperscript{-2}};
\node[font=\fs{5.6}] at (244,741) {Universal Time};
\node[anchor=west, font=\fs{6.3}] at (4,757) {Updated 2015 Feb 22 21:52:12 UTC};
\node[anchor=west, font=\fs{6}] at (322,757) {NOAA/SWPC Boulder, CO USA};
\node[rotate=90, text=gred, font=\fs{7}] at (455,515) {GOES15 1.0–8.0 A};
\node[rotate=90, text=gorange, font=\fs{7}] at (475,515) {GOES13 1.0–8.0 A};
\node[rotate=90, text=gblue, font=\fs{7}] at (455,656) {GOES15 0.5–4.0 A};
\node[rotate=90, text=lpurple, font=\fs{7}] at (475,656) {GOES13 0.5–4.0 A};
\foreach \lt/\yy in {X/478,M/521.6,C/565,B/608.4,A/651.9} {\node[font=\serif\bfseries\fs{6}] at (436,\yy) {\lt};}
% Panel 6
\node[anchor=west, font=\fs{7.3}] at (512,400) {GOES13 Proton Flux (5 minute data)};
\node[anchor=west, font=\fs{6.6}] at (802,404) {Begin: 2015 Feb 20 0000 UTC};
\node[rotate=90, font=\fs{8.3}] at (497,580) {Particles cm\textsuperscript{-2}s\textsuperscript{-1}sr\textsuperscript{-1}};
\node[font=\fs{5.6}] at (733,741) {Universal Time};
\node[anchor=west, font=\fs{6.3}] at (487,757) {Updated 2015 Feb 22 21:51:02 UTC};
\node[anchor=west, font=\fs{6}] at (808,757) {NOAA/SWPC Boulder, CO USA};
\node[rotate=90, font=\bfseries\fs{7}] at (957,486) {MeV};
\node[rotate=90, text=gred, font=\fs{7}] at (957,536) {>=10};
\node[rotate=90, text=gblue, font=\fs{7}] at (957,612) {>=50};
\node[rotate=90, text=kgreen, font=\fs{7}] at (957,685) {>=100};
% Panel 7
\node[anchor=west, font=\serif\bfseries\fs{7.4}] at (991,400) {Estimated Planetary K index (3 hour data)};
\node[anchor=west, font=\serif\bfseries\fs{6.6}] at (1275,404) {Begin:};
\node[anchor=west, font=\fs{6.6}] at (1323,404) {2015 Feb 20 0000 UTC};
\node[rotate=90, font=\serif\bfseries\fs{7.4}] at (987,566) {Kp index};
\node[font=\serif\bfseries\fs{6.3}] at (1205,741) {Universal Time};
\node[anchor=west, font=\fs{6.3}] at (973,757) {{\serif\bfseries Updated} 2015 Feb 22 21:50:21 UTC};
\node[anchor=west, font=\serif\bfseries\fs{6}] at (1283,757) {NOAA/SWPC Boulder, CO USA};
\node[rotate=90, text=gred, font=\serif\fs{8.5}] at (1428,502) {K>4};
\node[rotate=90, text=kyellow, font=\serif\fs{8.5}] at (1428,555) {K=4};
\node[rotate=90, text=kgreen, font=\serif\fs{8.5}] at (1428,617) {K<4};
% Panel 8
\node[font=\fs{6.4}] at (1702,398) {SDO-EVE Diodes 3-day plot};
\node[rotate=90, font=\fs{5.5}] at (1478,477) {Irradiance (mW m\textsuperscript{-2})};
\node[rotate=90, font=\fs{5.5}] at (1486,572) {counts};
\node[rotate=90, font=\fs{5.5}] at (1481,663) {Irradiance (mW m\textsuperscript{-2})};
\node[font=\fs{5.8}] at (1702,750) {UTC Date};
\node[font=\fs{3.8}] at (1702,761) {Last updated 2015-Feb-22 21:53:30UTC};
\node[rl, text=sred] at (1901,500) {MEGSP 121.6nm};
\node[rl, text=smag] at (1909,507) {ESP 0.1–7nm};
\node[rl] at (1901,582) {Dark};
\node[rl, text=sblue] at (1901,630) {ESP 17.1nm};
\node[rl, text=sgreen] at (1901,696) {ESP 25.7nm};
\node[rl, text=sorange] at (1909,696) {ESP 30.4nm};
\end{scope}
\end{tikzpicture}
\end{document}
